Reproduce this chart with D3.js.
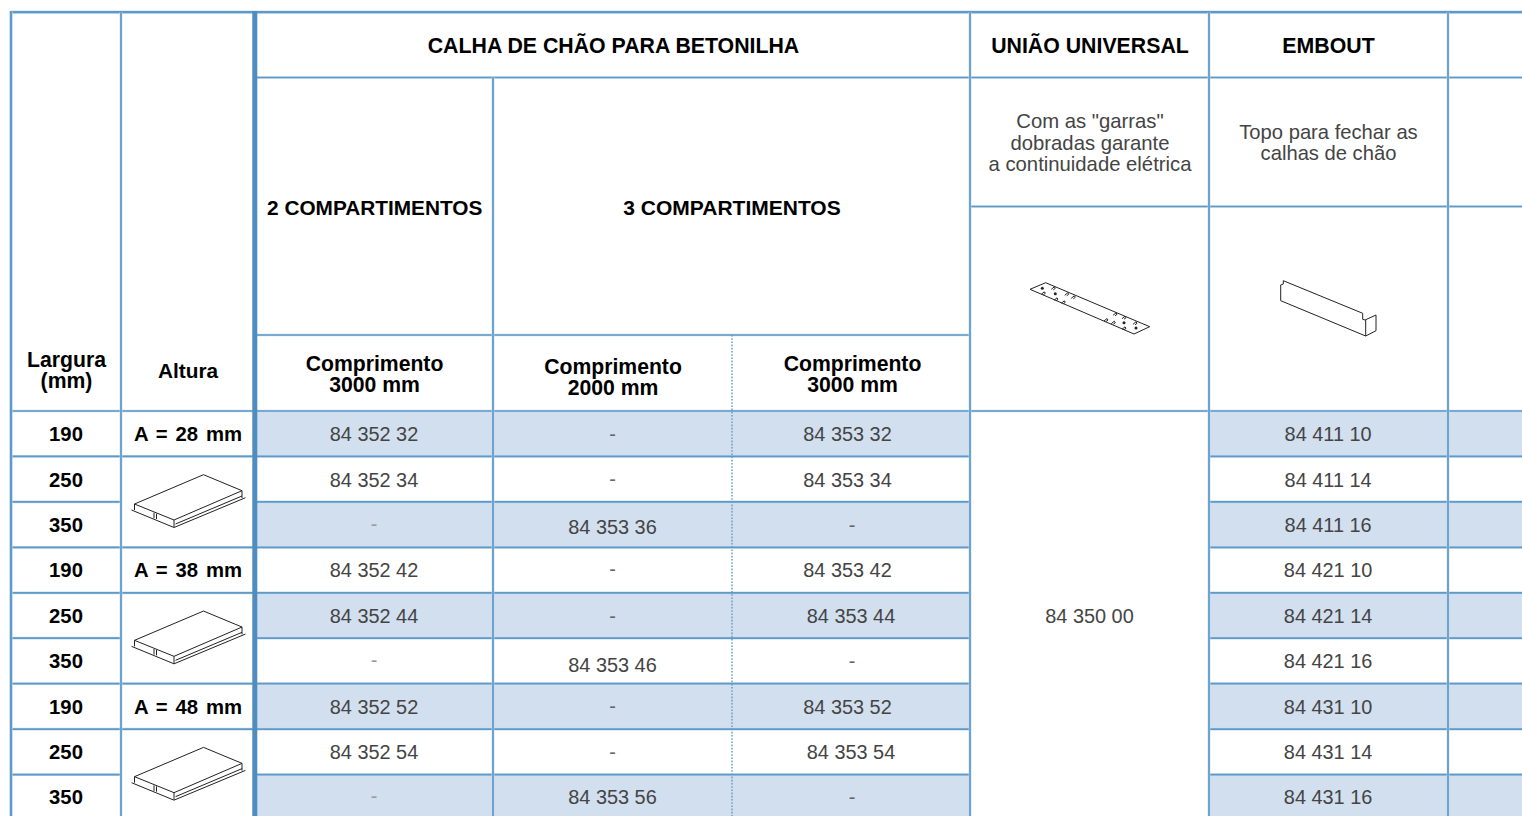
<!DOCTYPE html>
<html><head><meta charset="utf-8">
<script src="https://cdnjs.cloudflare.com/ajax/libs/d3/7.8.5/d3.min.js"></script>
<style>html,body{margin:0;padding:0;background:#fff;overflow:hidden}svg{display:block}text{font-family:"Liberation Sans",Arial,sans-serif}</style>
</head><body><svg id="c" width="1522" height="816"></svg>
<script>
const larguras = ["190","250","350","190","250","350","190","250","350"];
const alturas = ["A = 28 mm","A = 38 mm","A = 48 mm"];
const comp2x3000 = ["84 352 32","84 352 34","-","84 352 42","84 352 44","-","84 352 52","84 352 54","-"];
const comp3x2000 = ["-","-","84 353 36","-","-","84 353 46","-","-","84 353 56"];
const comp3x3000 = ["84 353 32","84 353 34","-","84 353 42","84 353 44","-","84 353 52","84 353 54","-"];
const uniao = "84 350 00";
const embout = ["84 411 10","84 411 14","84 411 16","84 421 10","84 421 14","84 421 16","84 431 10","84 431 14","84 431 16"];
const colEdges = [11,121,255,493,732,970,1209,1448,1540];
const INK="#000", CODE="#444", LINE="#5f99c8", HALO="#c4daec", SHADE="#d2dfef";

const svg=d3.select("#c");
const rowY=d3.scaleBand().domain(d3.range(9)).range([411,820]);
const colX=d3.scaleOrdinal().domain(d3.range(9)).range(colEdges);
const headY=d3.scaleOrdinal().domain(["top","a","b","c"]).range([12,77.5,206.5,335]);

[[2,5],[6,8]].forEach(([a,b])=>{
  svg.append("g").selectAll("rect").data(d3.range(0,9,2)).join("rect")
    .attr("x",colX(a)).attr("width",colX(b)-colX(a))
    .attr("y",d=>rowY(d)).attr("height",rowY.bandwidth()).attr("fill",SHADE);
});

function hl(x1,x2,y,w=1.7){[[w+1,HALO],[w,LINE]].forEach(([sw,c])=>svg.append("line").attr("x1",x1).attr("x2",x2).attr("y1",y).attr("y2",y).attr("stroke",c).attr("stroke-width",sw));}
function vl(x,y1,y2,w=1.7){[[w+1,HALO],[w,LINE]].forEach(([sw,c])=>svg.append("line").attr("x1",x).attr("x2",x).attr("y1",y1).attr("y2",y2).attr("stroke",c).attr("stroke-width",sw));}

hl(colX(2),1522,headY("a"));
hl(colX(5),1522,headY("b"));
hl(colX(2),colX(5),headY("c"));
hl(colX(0),1522,rowY(0));
d3.range(1,9).forEach(i=>{
  const isIcon=(i%3===2);
  if(isIcon){hl(colX(0),colX(1),rowY(i));hl(colX(2),colX(5),rowY(i));}
  else hl(colX(0),colX(5),rowY(i));
  hl(colX(6),1522,rowY(i));
});
hl(colX(0),1522,12.2,2.2);

vl(colX(0),11,816,2.2);
vl(colX(1),12,816);
vl(colX(3),77,816);
vl(colX(5),12,816);
vl(colX(6),12,816);
vl(colX(7),12,816);
svg.append("line").attr("x1",colX(4)).attr("x2",colX(4)).attr("y1",headY("c")).attr("y2",816)
  .attr("stroke",LINE).attr("stroke-width",1.4).attr("stroke-dasharray","1.6 1.6");
svg.append("line").attr("x1",254.8).attr("x2",254.8).attr("y1",11).attr("y2",816).attr("stroke","#4f8dbf").attr("stroke-width",5);

function label(x,y,lines,{size=20.3,bold=true,fill=INK,lh=21,ws=0}={}){
  const t=svg.append("text").attr("text-anchor","middle").attr("font-size",size)
    .attr("font-weight",bold?700:400).attr("fill",fill).attr("word-spacing",ws);
  lines.forEach((s,i)=>t.append("tspan").attr("x",x).attr("y",y+i*lh).text(s));
}
const mid=(a,b)=>(colX(a)+colX(b))/2;

label(613.5,52.5,["CALHA DE CHÃO PARA BETONILHA"],{size:21.3});
label(1090,52.5,["UNIÃO UNIVERSAL"],{size:21.3});
label(1328.5,52.5,["EMBOUT"],{size:21.3});
label(374.7,214.5,["2 COMPARTIMENTOS"],{size:20.8});
label(732,214.5,["3 COMPARTIMENTOS"],{size:21});
label(66.5,367,["Largura","(mm)"],{size:21.2});
label(188,377.5,["Altura"],{size:20.8});
label(374.5,371,["Comprimento","3000 mm"],{size:21.2});
label(613,374,["Comprimento","2000 mm"],{size:21.2});
label(852.5,371,["Comprimento","3000 mm"],{size:21.2});
label(1090,128,['Com as "garras"',"dobradas garante","a continuidade elétrica"],{size:20.3,bold:false,fill:CODE,lh:21.7});
label(1328.5,139,["Topo para fechar as","calhas de chão"],{size:20.2,bold:false,fill:CODE});

const rowCy=i=>rowY(i)+rowY.bandwidth()/2;
const rowNudge=i=>(i===3||i===8)?-0.7:0;
larguras.forEach((d,i)=>label(mid(0,1),rowCy(i)+7.5+rowNudge(i),[d]));
alturas.forEach((d,i)=>label(mid(1,2),rowCy(i*3)+7.5+rowNudge(i*3),[d],{ws:2.3}));
const code=(x,i,d,dy,fill)=>label(x,rowCy(i)+dy+rowNudge(i),[d],{size:19.9,bold:false,fill:fill||(d==="-"?"#666":CODE)});
comp2x3000.forEach((d,i)=>code(mid(2,3),i,d,d==="-"?6:7.5,d==="-"?"#9a9a9a":null));
comp3x2000.forEach((d,i)=>code(mid(3,4),i,d,d==="-"?7:(i===8?7.5:(i===5?11:9.5))));
comp3x3000.forEach((d,i)=>code(d==="-"?852:(i===4||i===7?851:847.5),i,d,7.5));
code(mid(5,6),4,uniao,7.5);
embout.forEach((d,i)=>code(mid(6,7)-.4,i,d,7.5));

// illustrations: outlines, in local coordinates
const duct=["M1 30 L70 0.7 L108.5 16.7 L40.5 46 Z","M1 30 L1 36","M40.5 46 L40.5 53","M108.5 16.7 L108.5 24",
 "M-2 36 L40.5 53.5 L112 23.7","M42 50 L108.5 22","M20.5 38.7 L20.5 44.3","M23 39.7 L23 45"];
[0,1,2].forEach(k=>{
  const g=svg.append("g").attr("transform",`translate(133.5,${474+k*rowY.bandwidth()*3})`)
   .attr("fill","none").attr("stroke","#222").attr("stroke-width",1);
  duct.forEach(d=>g.append("path").attr("d",d));
});
const plateHoles=[[12.3,6.3],[25.3,11.7],[94,40.7],[106,46]];
const plateClaws=[[23.3,6.3],[36.7,12.3],[43.3,15.3],[13.3,11.3],[26,17.3],[33.3,20.3],[85,32.3],[94,35.7],[105,41.3],[76,38],[83.3,40.7],[94,46.3]];
const g1=svg.append("g").attr("transform","translate(1030,282)").attr("fill","none").attr("stroke","#222").attr("stroke-width",1);
g1.append("path").attr("d","M0 7.3 L15.7 .7 L119.7 44.7 L104 52 Z");
g1.selectAll("circle").data(plateHoles).join("circle").attr("cx",d=>d[0]).attr("cy",d=>d[1]).attr("r",1.5).attr("fill","#222").attr("stroke","none");
g1.selectAll("path.c").data(plateClaws).join("path").attr("class","c").attr("d",d=>`M${d[0]-2} ${d[1]+1} L${d[0]+1} ${d[1]-1.5} L${d[0]+2} ${d[1]} L${d[0]} ${d[1]+1.5}`);
const g2=svg.append("g").attr("transform","translate(1280,280)").attr("fill","none").attr("stroke","#222").attr("stroke-width",1);
["M.7 5 L.7 20.7 L85.7 56 L96 50.7 L96 35 L85 40 L82.7 39.3 L82.7 33.3 L3.3 .7 L3.3 4 L.7 5","M85.7 56 L85.7 40"].forEach(d=>g2.append("path").attr("d",d));
</script></body></html>
